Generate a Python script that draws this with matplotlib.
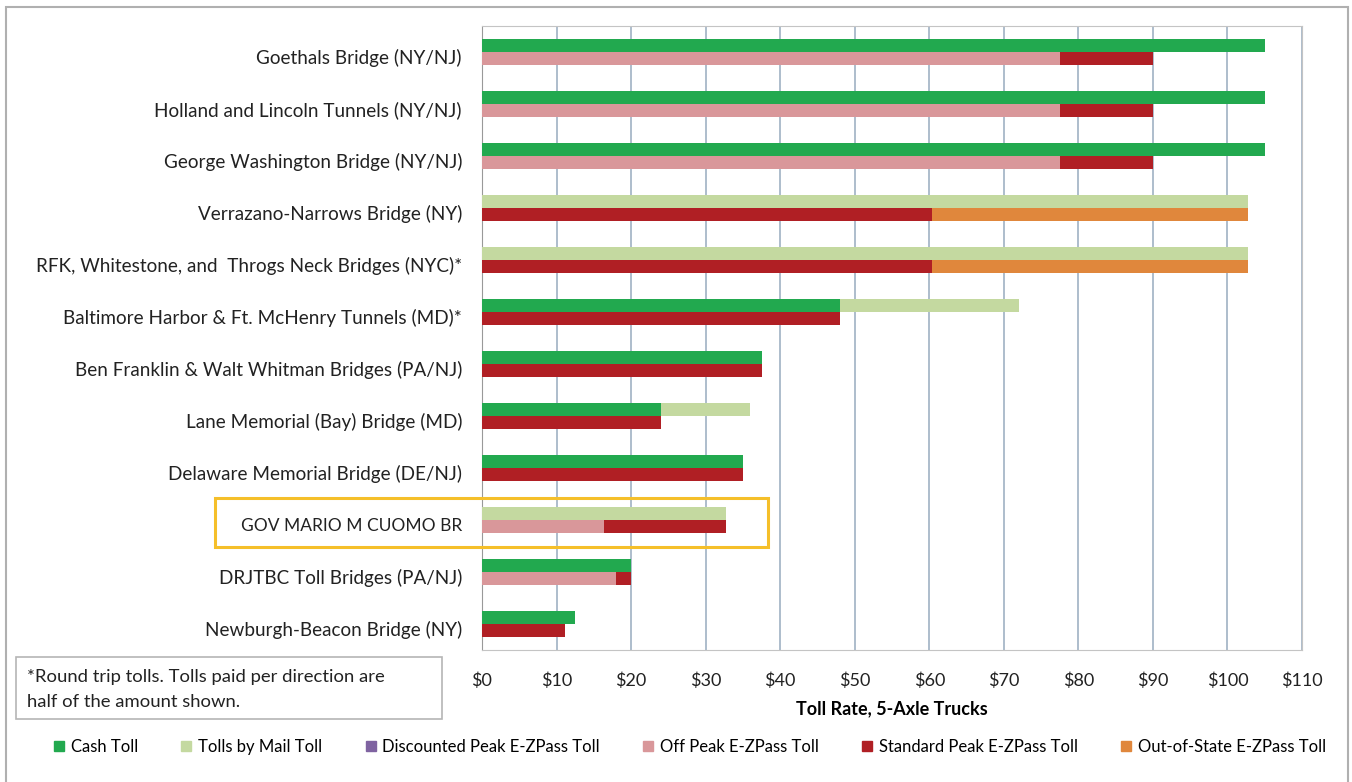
import numpy as np
import matplotlib.pyplot as plt
import matplotlib.patches as mpatches

plt.rcParams["font.family"] = ["Lato", "DejaVu Sans"]

# ── data (top to bottom as shown) ──
bridges = [
    "Goethals Bridge (NY/NJ)",
    "Holland and Lincoln Tunnels (NY/NJ)",
    "George Washington Bridge (NY/NJ)",
    "Verrazano-Narrows Bridge (NY)",
    "RFK, Whitestone, and  Throgs Neck Bridges (NYC)*",
    "Baltimore Harbor & Ft. McHenry Tunnels (MD)*",
    "Ben Franklin & Walt Whitman Bridges (PA/NJ)",
    "Lane Memorial (Bay) Bridge (MD)",
    "Delaware Memorial Bridge (DE/NJ)",
    "GOV MARIO M CUOMO BR",
    "DRJTBC Toll Bridges (PA/NJ)",
    "Newburgh-Beacon Bridge (NY)",
]
cash_toll     = [105, 105, 105, 0, 0, 48, 37.5, 24, 35, 0, 20, 12.5]
mail_toll     = [0, 0, 0, 102.8, 102.8, 72, 0, 36, 0, 32.7, 0, 0]
discount_peak = [0, 0, 0, 0, 0, 0, 0, 0, 0, 0, 0, 0]
off_peak      = [77.5, 77.5, 77.5, 0, 0, 0, 0, 0, 0, 16.4, 18, 0]
std_peak      = [90, 90, 90, 60.4, 60.4, 48, 37.5, 24, 35, 32.7, 20, 11.2]
out_of_state  = [0, 0, 0, 102.8, 102.8, 0, 0, 0, 0, 0, 0, 0]
xticks = list(range(0, 111, 10))

C_CASH, C_MAIL, C_DISC = "#22a94f", "#c4d9a0", "#7f63a1"
C_OFF, C_STD, C_OOS = "#d9979a", "#b01f24", "#e0873c"

W, H = 1352, 782
fig = plt.figure(figsize=(W / 100, H / 100), dpi=100)
fig.patch.set_facecolor("white")
ax = fig.add_axes([482 / W, 1 - 650 / H, (1302 - 482) / W, (650 - 26) / H])

y = np.arange(len(bridges))
bh = 0.25
top = y - bh / 2
bot = y + bh / 2

# top row: mail behind cash; bottom row: out-of-state, standard, off-peak
ax.barh(top, mail_toll, height=bh, color=C_MAIL, zorder=3)
ax.barh(top, cash_toll, height=bh, color=C_CASH, zorder=4)
ax.barh(bot, out_of_state, height=bh, color=C_OOS, zorder=3)
ax.barh(bot, std_peak, height=bh, color=C_STD, zorder=4)
ax.barh(bot, discount_peak, height=bh, color=C_DISC, zorder=5)
ax.barh(bot, off_peak, height=bh, color=C_OFF, zorder=6)

ax.set_ylim(len(bridges) - 0.5, -0.5)
ax.set_xlim(0, 110)
ax.set_xticks(xticks)
ax.set_xticklabels([f"${v}" for v in xticks], fontsize=13, color="#222222")
ax.set_yticks(y)
ax.set_yticklabels([])
# category labels sit a little below the bar pair, as in the original
for i, name in enumerate(bridges):
    ax.annotate(name, xy=(0, i), xycoords=("axes fraction", "data"),
                xytext=(-20, -6), textcoords="offset pixels",
                ha="right", va="center", color="#222222",
                fontsize=12.5 if i == 9 else 13.6)
ax.tick_params(length=0, axis="y")
ax.tick_params(length=0, pad=16, axis="x")
ax.xaxis.grid(True, color="#9fb2c4", lw=1.2, zorder=0)
for s in ["top", "right", "bottom"]:
    ax.spines[s].set_color("#c4c4c4")
ax.spines["left"].set_color("#999999")
ax.set_xlabel("Toll Rate, 5-Axle Trucks", fontsize=13, fontweight="bold",
              labelpad=8)

# highlight box
fig.patches.append(mpatches.Rectangle((215 / W, 1 - 547 / H), (768 - 215) / W,
                   (547 - 498) / H, transform=fig.transFigure, fill=False,
                   edgecolor="#f5bf2a", lw=2.2, zorder=10))

# note box
fig.patches.append(mpatches.Rectangle((16 / W, 1 - 719 / H), (442 - 16) / W,
                   (719 - 657) / H, transform=fig.transFigure, fill=False,
                   edgecolor="#b5b5b5", lw=1.2))
fig.text(27 / W, 1 - 677 / H, "*Round trip tolls. Tolls paid per direction are",
         fontsize=13.3, va="center", color="#222222")
fig.text(27 / W, 1 - 702 / H, "half of the amount shown.",
         fontsize=13.3, va="center", color="#222222")

# outer chart border
fig.patches.append(mpatches.Rectangle((6 / W, -0.01), (1348 - 6) / W,
                   1 - 7 / H + 0.01, transform=fig.transFigure, fill=False,
                   edgecolor="#b0b0b0", lw=1.5))

handles = [mpatches.Patch(color=c, label=l) for c, l in [
    (C_CASH, "Cash Toll"), (C_MAIL, "Tolls by Mail Toll"),
    (C_DISC, "Discounted Peak E-ZPass Toll"), (C_OFF, "Off Peak E-ZPass Toll"),
    (C_STD, "Standard Peak E-ZPass Toll"), (C_OOS, "Out-of-State E-ZPass Toll")]]
fig.legend(handles=handles, loc="center", bbox_to_anchor=(690 / W, 1 - 747 / H),
           ncol=6, frameon=False, fontsize=12, handlelength=0.6,
           handleheight=0.6, handletextpad=0.4, columnspacing=2.6)

fig.savefig("out.png", dpi=100)
